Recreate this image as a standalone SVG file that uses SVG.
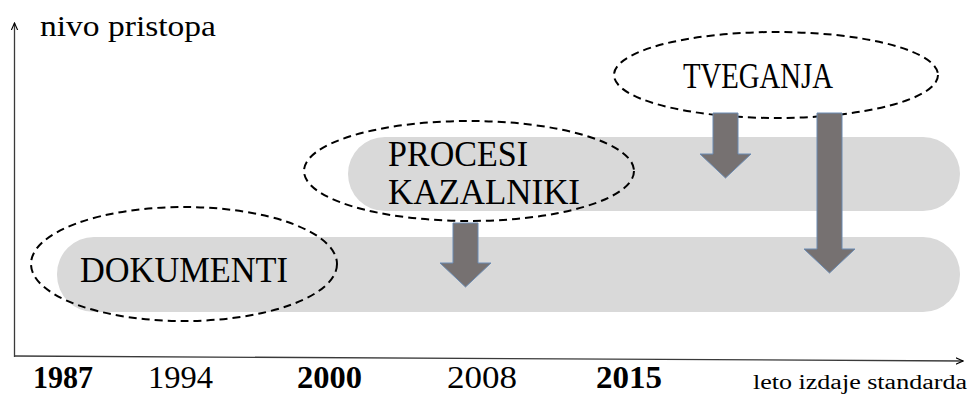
<svg xmlns="http://www.w3.org/2000/svg" width="973" height="394" viewBox="0 0 973 394">
<style>
.t{font-family:'Liberation Serif',serif;fill:#000}
.band{fill:#d9d9d9}
.ell{fill:none;stroke:#000;stroke-width:2;stroke-dasharray:8 5}
.arr{fill:#767171;stroke:#6a8bb3;stroke-width:1}
.axis{stroke:#3a3a3a;stroke-width:1.3;fill:none}
</style>
<defs>
<marker id="ah" viewBox="0 0 10 10" refX="9" refY="5" markerWidth="8" markerHeight="8" orient="auto" markerUnits="userSpaceOnUse">
<path d="M0,1 L9,5 L0,9" fill="none" stroke="#000" stroke-width="1.4"/>
</marker>
</defs>
<g id="bands">
<rect class="band" x="57" y="237" width="903" height="75" rx="37" ry="37"/>
<rect class="band" x="348" y="137" width="612" height="74" rx="37" ry="37"/>
</g>
<g id="axes">
<line class="axis" x1="14.5" y1="357" x2="14.5" y2="23" marker-end="url(#ah)"/>
<line class="axis" x1="14" y1="356" x2="963" y2="361" marker-end="url(#ah)"/>
<text class="t" x="40" y="36" font-size="30" textLength="176" lengthAdjust="spacingAndGlyphs">nivo pristopa</text>
<text class="t" x="753" y="389" font-size="20" textLength="214" lengthAdjust="spacingAndGlyphs">leto izdaje standarda</text>
</g>
<g id="years">
<text class="t" x="33" y="388" font-size="32" font-weight="bold" textLength="60" lengthAdjust="spacingAndGlyphs">1987</text>
<text class="t" x="148" y="388" font-size="32" textLength="65" lengthAdjust="spacingAndGlyphs">1994</text>
<text class="t" x="297" y="388" font-size="32" font-weight="bold" textLength="65" lengthAdjust="spacingAndGlyphs">2000</text>
<text class="t" x="447" y="388" font-size="32" textLength="70" lengthAdjust="spacingAndGlyphs">2008</text>
<text class="t" x="596" y="388" font-size="32" font-weight="bold" textLength="66" lengthAdjust="spacingAndGlyphs">2015</text>
</g>
<g id="dokumenti">
<ellipse class="ell" cx="184" cy="264" rx="153" ry="57"/>
<text class="t" x="80" y="282" font-size="36" textLength="208" lengthAdjust="spacingAndGlyphs">DOKUMENTI</text>
</g>
<g id="procesi">
<ellipse class="ell" cx="469" cy="171" rx="165" ry="50"/>
<text class="t" x="388" y="166" font-size="36" textLength="140" lengthAdjust="spacingAndGlyphs">PROCESI</text>
<text class="t" x="388" y="204" font-size="36" textLength="192" lengthAdjust="spacingAndGlyphs">KAZALNIKI</text>
</g>
<g id="tveganja">
<ellipse class="ell" cx="776" cy="75" rx="162" ry="43"/>
<text class="t" x="683" y="88" font-size="36" textLength="150" lengthAdjust="spacingAndGlyphs">TVEGANJA</text>
</g>
<g id="connectors">
<path class="arr" d="M453,223 L478,223 L478,263 L491,263 L465.5,287 L440,263 L453,263 Z"/>
<path class="arr" d="M713,113 L738,113 L738,154 L751,154 L725.5,178 L700,154 L713,154 Z"/>
<path class="arr" d="M817,113 L842,113 L842,249 L855,249 L829.5,273 L804,249 L817,249 Z"/>
</g>
</svg>
